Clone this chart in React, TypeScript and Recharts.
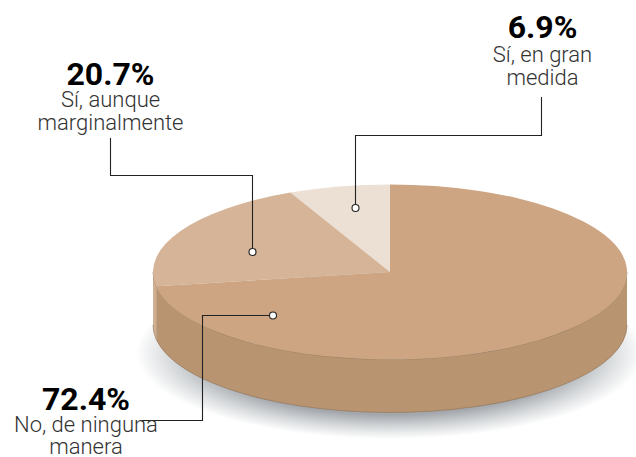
import { PieChart, Pie } from "recharts";

// === data ===
const CATEGORIES = ["Sí, en gran medida", "Sí, aunque marginalmente", "No, de ninguna manera"];
const VALUES = [6.9, 20.7, 72.4];
const LABEL_LINES = [
  ["Sí, en gran", "medida"],
  ["Sí, aunque", "marginalmente"],
  ["No, de ninguna", "manera"],
];

// === style ===
const TOP_COLORS = ["#ecdfd3", "#d5b498", "#cda582"];
const SIDE_COLORS = ["#d9c4b0", "#cfae92", "#b89471"];
const FONT = "Roboto, sans-serif";
const WIDTH = 636;
const HEIGHT = 457;
const CX = 390;
const CY = 272;
const RX = 237;
const RY = 87.5;
const DEPTH = 53;

// label layout: text centre, baselines, leader line path and dot
const CALLOUTS = [
  { x: 542.5, y: [38, 62, 85], line: "M541.5 97V135.5H355.5V208", dot: [355.5, 208] },
  { x: 110.5, y: [85, 107, 130], line: "M110.5 138V175.5H252.5V252", dot: [252.5, 252] },
  { x: 86, y: [410, 432, 454], line: "M273 315.5H202.5V420.5H142", dot: [273, 315.5] },
];

const rows = CATEGORIES.map((name, i) => ({
  name,
  value: VALUES[i],
  topColor: TOP_COLORS[i],
  sideColor: SIDE_COLORS[i],
}));

function pt(angle: number, dy = 0): string {
  const a = (angle * Math.PI) / 180;
  return `${CX + RX * Math.cos(a)} ${CY - RY * Math.sin(a) + dy}`;
}

// pie slice squashed to an ellipse, with its wall below it
function Slice3D(props: any) {
  const { startAngle, endAngle, topColor, sideColor } = props;
  const large = endAngle - startAngle > 180 ? 1 : 0;
  const top = `M${CX} ${CY}L${pt(startAngle)}A${RX} ${RY} 0 ${large} 0 ${pt(endAngle)}Z`;
  const a0 = Math.max(startAngle, 180);
  const a1 = Math.min(endAngle, 360);
  const hasWall = a1 > a0;
  return (
    <g>
      {hasWall && (
        <path
          d={`M${pt(a0)}A${RX} ${RY} 0 0 0 ${pt(a1)}L${pt(a1, DEPTH)}A${RX} ${RY} 0 0 1 ${pt(a0, DEPTH)}Z`}
          fill={sideColor}
        />
      )}
      {hasWall && (
        <path
          d={`M${pt(a0)}A${RX} ${RY} 0 0 0 ${pt(a1)}M${pt(a0, DEPTH)}A${RX} ${RY} 0 0 0 ${pt(a1, DEPTH)}`}
          fill="none"
          stroke="#8f7052"
          strokeWidth={0.6}
        />
      )}
      <path d={top} fill={topColor} />
    </g>
  );
}

function Callout(props: any) {
  const { index, value } = props;
  const c = CALLOUTS[index];
  const lines = LABEL_LINES[index];
  return (
    <g>
      <path d={c.line} fill="none" stroke="#222" strokeWidth={1.1} />
      <circle cx={c.dot[0]} cy={c.dot[1]} r={3.5} fill="#fff" stroke="#222" strokeWidth={1.1} />
      <text x={c.x} y={c.y[0]} textAnchor="middle" fontFamily={FONT} fontWeight={700} fontSize={32} fill="#000">
        {value}%
      </text>
      {lines.map((line, i) => (
        <text key={line} x={c.x} y={c.y[i + 1]} textAnchor="middle" fontFamily={FONT} fontWeight={300} fontSize={22} fill="#333">
          {line}
        </text>
      ))}
    </g>
  );
}

export default function App() {
  return (
    <div style={{ position: "absolute", left: 0, top: 0, width: WIDTH, height: HEIGHT }}>
      <PieChart width={WIDTH} height={HEIGHT} margin={{ top: 0, right: 0, bottom: 0, left: 0 }}>
        <defs>
          <radialGradient id="groundShadow">
            <stop offset="0.72" stopColor="#a4a8ad" />
            <stop offset="0.86" stopColor="#d5d8da" />
            <stop offset="1" stopColor="#ffffff" />
          </radialGradient>
        </defs>
        <ellipse cx={CX} cy={353} rx={254} ry={86} fill="url(#groundShadow)" />
        <Pie
          data={rows}
          dataKey="value"
          nameKey="name"
          cx={CX}
          cy={CY}
          innerRadius={0}
          outerRadius={RX}
          startAngle={90}
          endAngle={450}
          paddingAngle={0}
          shape={Slice3D}
          label={Callout}
          labelLine={false}
          isAnimationActive={false}
        />
      </PieChart>
    </div>
  );
}
